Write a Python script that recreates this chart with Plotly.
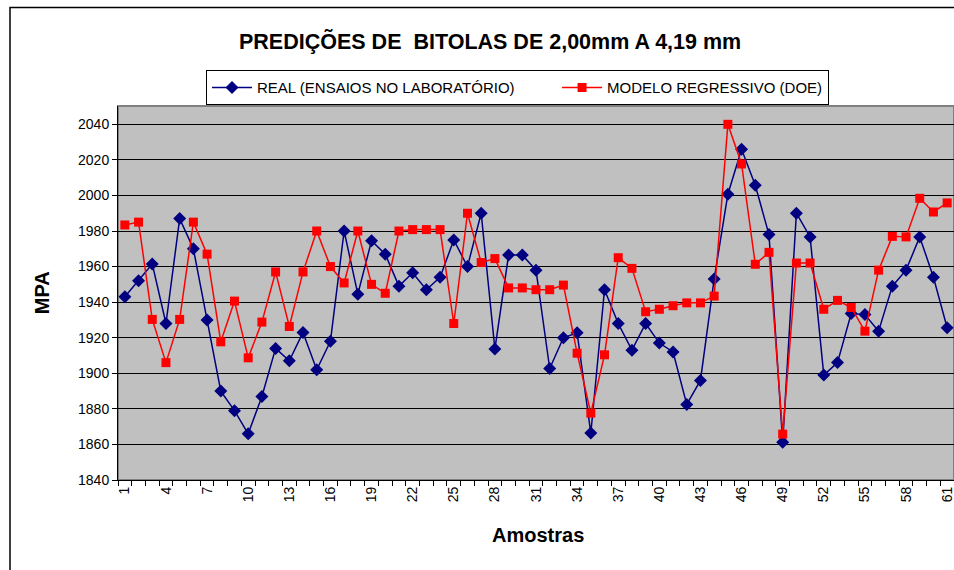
import plotly.graph_objects as go

samples = list(range(1, 62))
real = [1943, 1952, 1961.5, 1928, 1987, 1970, 1930, 1890, 1879, 1866,
        1887, 1914, 1907, 1923, 1902, 1918, 1980, 1944.5, 1974.5, 1967,
        1949, 1956.5, 1947, 1954, 1975, 1960, 1990, 1913.6, 1966.5, 1966.5,
        1958, 1902.7, 1920, 1922.8, 1866.4, 1947, 1928, 1913, 1928, 1917,
        1912, 1882.5, 1896, 1953, 2000.7, 2026, 2005.7, 1978, 1861.2, 1990,
        1976.7, 1899, 1906, 1933.6, 1933, 1923.7, 1949, 1958, 1976.7, 1954,
        1925.6]
model = [1983.4, 1985, 1930.3, 1906, 1930.3, 1985, 1967, 1917.7, 1940.6, 1908.7,
         1928.8, 1957, 1926.3, 1957, 1980, 1960, 1950.8, 1980, 1950, 1945,
         1980, 1980.8, 1980.8, 1980.8, 1928, 1990, 1962.3, 1964.5, 1948, 1948,
         1947, 1947, 1949.6, 1911.3, 1877.6, 1910.4, 1965, 1959, 1934.6, 1936,
         1938, 1939.6, 1939.6, 1943.4, 2040, 2017.7, 1961.3, 1968, 1865.8, 1962,
         1962, 1936, 1941, 1937, 1923.7, 1958, 1977, 1976.7, 1998.4, 1990.7,
         1995.8]
xtick_vals = list(range(1, 62, 3))
xtick_text = [str(v) for v in xtick_vals]
ytick_vals = list(range(1840, 2041, 20))

W, H = 954, 570
L, R, T, B = 118, 0, 105.7, 90
pw = W - L - R
ph = H - T - B

def px_x(x):
    return (x - L) / pw

def px_y(y):
    return (H - B - y) / ph

FONT = "Liberation Sans, Arial, sans-serif"

fig = go.Figure()
fig.add_trace(go.Scatter(
    x=samples, y=real, name="REAL (ENSAIOS NO LABORATÓRIO)" + "\u00a0" * 9,
    mode="lines+markers",
    line=dict(color="#000080", width=1.5),
    marker=dict(symbol="diamond", size=10, color="#000080"),
))
fig.add_trace(go.Scatter(
    x=samples, y=model, name="MODELO REGRESSIVO (DOE)",
    mode="lines+markers",
    line=dict(color="#FF0000", width=1.5),
    marker=dict(symbol="square", size=9, color="#FF0000"),
))

fig.update_layout(
    width=W, height=H,
    margin=dict(l=L, r=R, t=T, b=B, pad=0),
    paper_bgcolor="white",
    plot_bgcolor="#C0C0C0",
    font=dict(family=FONT, size=14, color="black"),
    showlegend=True,
    legend=dict(
        orientation="h",
        x=px_x(206), y=px_y(70), xanchor="left", yanchor="top",
        bgcolor="white", bordercolor="black", borderwidth=1,
        font=dict(family=FONT, size=15, color="black"),
        itemwidth=40,
    ),
    xaxis=dict(
        range=[0.5, 61.5],
        tickmode="array", tickvals=xtick_vals, ticktext=xtick_text,
        tickangle=-90, ticks="", showgrid=False, zeroline=False,
        showline=True, linecolor="black", linewidth=1,
        tickfont=dict(size=14), ticklabeloverflow="allow",
        minor=dict(tick0=0.5, dtick=1, ticks="outside", ticklen=5,
                   tickcolor="black", showgrid=False),
    ),
    yaxis=dict(
        range=[1840, 2050.3],
        tickmode="array", tickvals=ytick_vals,
        ticks="outside", ticklen=5, tickcolor="black",
        showgrid=True, gridcolor="black", gridwidth=1,
        zeroline=False, showline=True, linecolor="black", linewidth=1,
        tickfont=dict(size=14),
    ),
    shapes=[
        dict(type="rect", xref="paper", yref="paper",
             x0=0, x1=1, y0=0, y1=1,
             line=dict(color="#808080", width=2), layer="below"),
        dict(type="rect", xref="paper", yref="paper",
             x0=px_x(10), x1=px_x(980), y0=px_y(600), y1=px_y(7),
             line=dict(color="black", width=1.5)),
    ],
    annotations=[
        dict(text="PREDIÇÕES DE \u00a0BITOLAS DE 2,00mm A 4,19 mm",
             xref="paper", yref="paper", x=px_x(490), y=px_y(41),
             xanchor="center", yanchor="middle", showarrow=False,
             font=dict(family=FONT, size=21.5, color="black", weight="bold")),
        dict(text="MPA", xref="paper", yref="paper", x=px_x(42), y=px_y(293),
             xanchor="center", yanchor="middle", showarrow=False, textangle=-90,
             font=dict(family=FONT, size=20, color="black", weight="bold")),
        dict(text="Amostras", xref="paper", yref="paper", x=px_x(538), y=px_y(535),
             xanchor="center", yanchor="middle", showarrow=False,
             font=dict(family=FONT, size=20, color="black", weight="bold")),
    ],
)

fig.write_html(
    "out.html",
    config={"displayModeBar": False},
    post_script="document.body.style.margin='0';document.body.style.overflow='hidden';",
)
